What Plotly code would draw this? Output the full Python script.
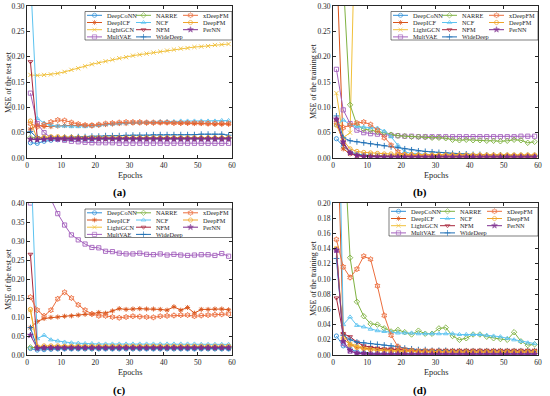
import plotly.graph_objects as go

EPOCHS = [1, 3, 5, 7, 9, 11, 13, 15, 17, 19, 21, 23, 25, 27, 29,
          31, 33, 35, 37, 39, 41, 43, 45, 47, 49, 51, 53, 55, 57, 59]

MODELS = ["DeepCoNN", "DeepICF", "LightGCN", "MultVAE", "NARRE", "NCF",
          "NFM", "WideDeep", "xDeepFM", "DeepFM", "PerNN"]

# (a) test set MSE
TEST_A = {
    "DeepCoNN": [0.030, 0.029, 0.033, 0.035, 0.036, 0.037, 0.037, 0.037, 0.037, 0.037, 0.038, 0.038, 0.038, 0.038, 0.038,
                 0.038, 0.038, 0.038, 0.038, 0.038, 0.038, 0.038, 0.038, 0.038, 0.038, 0.038, 0.038, 0.038, 0.038, 0.038],
    "DeepICF": [0.057, 0.065, 0.062, 0.062, 0.063, 0.064, 0.064, 0.064, 0.064, 0.065, 0.065, 0.066, 0.067, 0.068, 0.068,
                0.069, 0.069, 0.069, 0.069, 0.070, 0.070, 0.070, 0.069, 0.069, 0.068, 0.068, 0.068, 0.067, 0.067, 0.067],
    "LightGCN": [0.164, 0.163, 0.164, 0.165, 0.167, 0.170, 0.174, 0.177, 0.181, 0.185, 0.188, 0.191, 0.194, 0.197, 0.199,
                 0.202, 0.204, 0.206, 0.208, 0.210, 0.212, 0.214, 0.216, 0.217, 0.219, 0.220, 0.221, 0.223, 0.224, 0.225],
    "MultVAE": [0.128, 0.068, 0.050, 0.040, 0.037, 0.035, 0.033, 0.032, 0.031, 0.030, 0.030, 0.030, 0.030, 0.029, 0.029,
                0.029, 0.029, 0.029, 0.029, 0.029, 0.029, 0.029, 0.029, 0.029, 0.029, 0.029, 0.029, 0.029, 0.029, 0.029],
    "NARRE": [0.040, 0.039, 0.039, 0.039, 0.039, 0.039, 0.040, 0.040, 0.039, 0.039, 0.039, 0.039, 0.039, 0.039, 0.039,
              0.039, 0.039, 0.039, 0.039, 0.039, 0.039, 0.039, 0.039, 0.039, 0.039, 0.039, 0.039, 0.039, 0.039, 0.039],
    "NCF": [0.360, 0.078, 0.069, 0.065, 0.063, 0.063, 0.062, 0.062, 0.062, 0.063, 0.064, 0.066, 0.067, 0.068, 0.069,
            0.070, 0.070, 0.071, 0.071, 0.072, 0.072, 0.072, 0.073, 0.073, 0.073, 0.073, 0.073, 0.073, 0.074, 0.074],
    "NFM": [0.190, 0.040, 0.039, 0.038, 0.038, 0.038, 0.038, 0.038, 0.038, 0.038, 0.038, 0.038, 0.038, 0.038, 0.038,
            0.038, 0.038, 0.038, 0.038, 0.038, 0.038, 0.038, 0.038, 0.038, 0.038, 0.038, 0.038, 0.038, 0.038, 0.038],
    "WideDeep": [0.052, 0.040, 0.039, 0.040, 0.040, 0.041, 0.041, 0.042, 0.042, 0.043, 0.043, 0.044, 0.044, 0.044, 0.045,
                 0.045, 0.045, 0.045, 0.046, 0.046, 0.046, 0.046, 0.046, 0.046, 0.046, 0.047, 0.047, 0.047, 0.047, 0.045],
    "xDeepFM": [0.068, 0.062, 0.066, 0.071, 0.075, 0.074, 0.070, 0.067, 0.065, 0.064, 0.066, 0.068, 0.069, 0.070, 0.071,
                0.071, 0.071, 0.070, 0.070, 0.070, 0.070, 0.069, 0.069, 0.069, 0.069, 0.069, 0.068, 0.068, 0.068, 0.068],
    "DeepFM": [0.073, 0.038, 0.041, 0.042, 0.042, 0.041, 0.041, 0.040, 0.040, 0.040, 0.040, 0.040, 0.040, 0.040, 0.040,
               0.040, 0.040, 0.040, 0.040, 0.040, 0.040, 0.040, 0.040, 0.040, 0.040, 0.040, 0.040, 0.040, 0.040, 0.040],
    "PerNN": [0.037, 0.036, 0.037, 0.038, 0.038, 0.038, 0.038, 0.038, 0.038, 0.038, 0.038, 0.038, 0.038, 0.038, 0.038,
              0.038, 0.038, 0.038, 0.038, 0.038, 0.038, 0.038, 0.038, 0.038, 0.038, 0.038, 0.038, 0.038, 0.038, 0.038],
}

# (b) training set MSE
TRAIN_B = {
    "DeepCoNN": [0.038, 0.023, 0.012, 0.008, 0.006, 0.005, 0.005, 0.004, 0.004, 0.004, 0.004, 0.004, 0.003, 0.003, 0.003,
                 0.003, 0.003, 0.003, 0.003, 0.003, 0.003, 0.003, 0.003, 0.003, 0.003, 0.003, 0.003, 0.003, 0.003, 0.003],
    "DeepICF": [0.400, 0.018, 0.008, 0.005, 0.004, 0.004, 0.003, 0.003, 0.003, 0.003, 0.003, 0.003, 0.003, 0.003, 0.003,
                0.003, 0.003, 0.003, 0.003, 0.003, 0.003, 0.003, 0.003, 0.003, 0.003, 0.003, 0.003, 0.003, 0.003, 0.003],
    "LightGCN": [0.128, 0.040, 0.050, 0.620, 0.850, 0.980, 1.050, 1.100, 1.150, 1.180, 1.200, 1.220, 1.240, 1.250, 1.260,
                 1.270, 1.280, 1.290, 1.300, 1.300, 1.310, 1.310, 1.320, 1.320, 1.330, 1.330, 1.330, 1.340, 1.340, 1.340],
    "MultVAE": [0.175, 0.095, 0.068, 0.055, 0.050, 0.048, 0.047, 0.046, 0.045, 0.044, 0.043, 0.043, 0.042, 0.042, 0.042,
                0.042, 0.042, 0.042, 0.042, 0.042, 0.042, 0.042, 0.042, 0.042, 0.042, 0.042, 0.042, 0.043, 0.043, 0.043],
    "NARRE": [0.600, 0.360, 0.105, 0.065, 0.057, 0.055, 0.052, 0.050, 0.046, 0.044, 0.043, 0.042, 0.042, 0.041, 0.040,
              0.040, 0.039, 0.036, 0.035, 0.036, 0.035, 0.035, 0.034, 0.034, 0.033, 0.034, 0.036, 0.035, 0.030, 0.032],
    "NCF": [0.065, 0.075, 0.066, 0.062, 0.061, 0.060, 0.059, 0.053, 0.042, 0.025, 0.012, 0.009, 0.008, 0.007, 0.007,
            0.006, 0.006, 0.006, 0.006, 0.006, 0.006, 0.005, 0.005, 0.005, 0.005, 0.005, 0.005, 0.005, 0.005, 0.005],
    "NFM": [0.075, 0.028, 0.010, 0.005, 0.003, 0.003, 0.002, 0.002, 0.002, 0.002, 0.002, 0.002, 0.002, 0.002, 0.002,
            0.002, 0.002, 0.002, 0.002, 0.002, 0.002, 0.002, 0.002, 0.002, 0.002, 0.002, 0.002, 0.002, 0.002, 0.002],
    "WideDeep": [0.083, 0.040, 0.034, 0.032, 0.030, 0.028, 0.026, 0.024, 0.022, 0.020, 0.018, 0.016, 0.014, 0.013, 0.012,
                 0.011, 0.010, 0.009, 0.008, 0.008, 0.007, 0.007, 0.006, 0.006, 0.006, 0.005, 0.005, 0.005, 0.005, 0.005],
    "xDeepFM": [0.070, 0.060, 0.065, 0.069, 0.071, 0.066, 0.055, 0.040, 0.025, 0.012, 0.006, 0.005, 0.005, 0.004, 0.004,
                0.004, 0.004, 0.004, 0.004, 0.004, 0.004, 0.004, 0.004, 0.004, 0.004, 0.004, 0.004, 0.004, 0.004, 0.004],
    "DeepFM": [0.065, 0.035, 0.018, 0.013, 0.011, 0.010, 0.009, 0.008, 0.008, 0.007, 0.007, 0.007, 0.006, 0.006, 0.006,
               0.006, 0.006, 0.006, 0.006, 0.006, 0.006, 0.006, 0.006, 0.006, 0.006, 0.006, 0.006, 0.006, 0.006, 0.006],
    "PerNN": [0.077, 0.032, 0.010, 0.005, 0.003, 0.002, 0.002, 0.002, 0.002, 0.002, 0.002, 0.002, 0.002, 0.002, 0.002,
              0.002, 0.002, 0.002, 0.002, 0.002, 0.002, 0.002, 0.002, 0.002, 0.002, 0.002, 0.002, 0.002, 0.002, 0.002],
}

# (c) test set MSE
TEST_C = {
    "DeepCoNN": [0.017, 0.013, 0.014, 0.015, 0.016, 0.016, 0.016, 0.016, 0.016, 0.016, 0.016, 0.016, 0.016, 0.016, 0.016,
                 0.016, 0.016, 0.016, 0.016, 0.016, 0.016, 0.016, 0.016, 0.016, 0.016, 0.016, 0.016, 0.016, 0.016, 0.016],
    "DeepICF": [0.072, 0.088, 0.096, 0.099, 0.100, 0.102, 0.103, 0.105, 0.107, 0.108, 0.112, 0.110, 0.116, 0.122, 0.120,
                0.121, 0.122, 0.121, 0.121, 0.120, 0.118, 0.127, 0.118, 0.125, 0.110, 0.120, 0.120, 0.121, 0.121, 0.119],
    "LightGCN": [0.118, 0.021, 0.021, 0.021, 0.021, 0.021, 0.021, 0.021, 0.021, 0.021, 0.021, 0.021, 0.021, 0.021, 0.021,
                 0.021, 0.021, 0.021, 0.021, 0.021, 0.021, 0.021, 0.021, 0.021, 0.021, 0.021, 0.021, 0.021, 0.021, 0.021],
    "MultVAE": [0.400, 0.460, 0.440, 0.410, 0.372, 0.342, 0.316, 0.303, 0.292, 0.283, 0.282, 0.273, 0.272, 0.268, 0.266,
                0.266, 0.268, 0.265, 0.264, 0.266, 0.263, 0.265, 0.263, 0.262, 0.263, 0.264, 0.264, 0.262, 0.267, 0.260],
    "NARRE": [0.020, 0.019, 0.019, 0.019, 0.019, 0.019, 0.019, 0.019, 0.019, 0.019, 0.019, 0.019, 0.019, 0.019, 0.019,
              0.019, 0.019, 0.019, 0.019, 0.019, 0.019, 0.019, 0.019, 0.019, 0.019, 0.019, 0.019, 0.019, 0.019, 0.019],
    "NCF": [0.550, 0.043, 0.052, 0.040, 0.037, 0.034, 0.032, 0.031, 0.030, 0.030, 0.029, 0.029, 0.029, 0.029, 0.029,
            0.029, 0.029, 0.029, 0.029, 0.029, 0.029, 0.029, 0.029, 0.029, 0.029, 0.028, 0.028, 0.028, 0.028, 0.028],
    "NFM": [0.265, 0.020, 0.020, 0.020, 0.020, 0.020, 0.020, 0.020, 0.020, 0.020, 0.020, 0.020, 0.020, 0.020, 0.020,
            0.020, 0.020, 0.020, 0.020, 0.020, 0.020, 0.020, 0.020, 0.020, 0.020, 0.020, 0.020, 0.020, 0.020, 0.020],
    "WideDeep": [0.072, 0.018, 0.018, 0.018, 0.018, 0.018, 0.018, 0.018, 0.018, 0.018, 0.018, 0.018, 0.018, 0.018, 0.018,
                 0.018, 0.018, 0.018, 0.018, 0.018, 0.018, 0.018, 0.018, 0.018, 0.018, 0.018, 0.018, 0.018, 0.018, 0.018],
    "xDeepFM": [0.152, 0.118, 0.103, 0.118, 0.148, 0.165, 0.150, 0.132, 0.118, 0.108, 0.103, 0.103, 0.100, 0.098, 0.100,
                0.102, 0.101, 0.100, 0.099, 0.102, 0.103, 0.104, 0.105, 0.105, 0.102, 0.104, 0.105, 0.106, 0.107, 0.108],
    "DeepFM": [0.120, 0.022, 0.024, 0.024, 0.024, 0.023, 0.023, 0.023, 0.023, 0.023, 0.023, 0.023, 0.023, 0.023, 0.023,
               0.023, 0.023, 0.023, 0.023, 0.023, 0.023, 0.023, 0.023, 0.023, 0.023, 0.023, 0.023, 0.023, 0.023, 0.023],
    "PerNN": [0.052, 0.018, 0.019, 0.019, 0.019, 0.019, 0.019, 0.019, 0.019, 0.019, 0.019, 0.019, 0.019, 0.019, 0.019,
              0.019, 0.019, 0.019, 0.019, 0.019, 0.019, 0.019, 0.019, 0.019, 0.019, 0.019, 0.019, 0.019, 0.019, 0.019],
}

# (d) training set MSE
TRAIN_D = {
    "DeepCoNN": [0.025, 0.012, 0.008, 0.004, 0.003, 0.002, 0.002, 0.002, 0.002, 0.002, 0.002, 0.002, 0.002, 0.002, 0.002,
                 0.002, 0.002, 0.002, 0.002, 0.002, 0.002, 0.002, 0.002, 0.002, 0.002, 0.002, 0.002, 0.002, 0.002, 0.002],
    "DeepICF": [0.350, 0.028, 0.014, 0.010, 0.009, 0.008, 0.008, 0.007, 0.007, 0.007, 0.006, 0.006, 0.006, 0.006, 0.006,
                0.006, 0.006, 0.006, 0.006, 0.006, 0.006, 0.006, 0.006, 0.006, 0.006, 0.006, 0.006, 0.006, 0.006, 0.006],
    "LightGCN": [0.140, 0.020, 0.015, 0.012, 0.010, 0.009, 0.008, 0.007, 0.006, 0.006, 0.005, 0.005, 0.005, 0.005, 0.005,
                 0.005, 0.005, 0.004, 0.004, 0.004, 0.004, 0.004, 0.004, 0.004, 0.004, 0.004, 0.004, 0.004, 0.004, 0.004],
    "MultVAE": [0.138, 0.015, 0.005, 0.002, 0.001, 0.001, 0.001, 0.001, 0.001, 0.001, 0.001, 0.001, 0.001, 0.001, 0.001,
                0.001, 0.001, 0.001, 0.001, 0.001, 0.001, 0.001, 0.001, 0.001, 0.001, 0.001, 0.001, 0.001, 0.001, 0.001],
    "NARRE": [0.500, 0.300, 0.128, 0.070, 0.051, 0.041, 0.040, 0.035, 0.031, 0.033, 0.030, 0.027, 0.032, 0.028, 0.028,
              0.035, 0.036, 0.025, 0.020, 0.022, 0.027, 0.027, 0.024, 0.022, 0.021, 0.020, 0.030, 0.018, 0.013, 0.014],
    "NCF": [0.500, 0.040, 0.050, 0.039, 0.037, 0.034, 0.032, 0.031, 0.030, 0.029, 0.029, 0.029, 0.028, 0.028, 0.028,
            0.028, 0.028, 0.028, 0.027, 0.027, 0.027, 0.027, 0.026, 0.025, 0.024, 0.022, 0.020, 0.018, 0.016, 0.015],
    "NFM": [0.075, 0.028, 0.024, 0.017, 0.012, 0.010, 0.009, 0.008, 0.008, 0.007, 0.007, 0.006, 0.006, 0.006, 0.006,
            0.006, 0.006, 0.006, 0.006, 0.006, 0.006, 0.006, 0.006, 0.006, 0.006, 0.006, 0.006, 0.006, 0.006, 0.006],
    "WideDeep": [0.127, 0.026, 0.020, 0.017, 0.016, 0.015, 0.014, 0.013, 0.012, 0.011, 0.009, 0.008, 0.007, 0.007, 0.006,
                 0.006, 0.006, 0.005, 0.005, 0.005, 0.005, 0.005, 0.005, 0.005, 0.005, 0.005, 0.005, 0.005, 0.005, 0.005],
    "xDeepFM": [0.152, 0.116, 0.102, 0.113, 0.130, 0.126, 0.091, 0.052, 0.026, 0.011, 0.007, 0.006, 0.005, 0.005, 0.005,
                0.004, 0.004, 0.004, 0.004, 0.004, 0.004, 0.004, 0.004, 0.004, 0.004, 0.004, 0.004, 0.004, 0.004, 0.004],
    "DeepFM": [0.140, 0.022, 0.013, 0.010, 0.008, 0.007, 0.006, 0.006, 0.005, 0.005, 0.005, 0.005, 0.004, 0.004, 0.004,
               0.004, 0.004, 0.004, 0.004, 0.004, 0.004, 0.004, 0.004, 0.004, 0.004, 0.004, 0.004, 0.004, 0.004, 0.004],
    "PerNN": [0.138, 0.018, 0.006, 0.002, 0.002, 0.001, 0.001, 0.001, 0.001, 0.001, 0.001, 0.001, 0.001, 0.001, 0.001,
              0.001, 0.001, 0.001, 0.001, 0.001, 0.001, 0.001, 0.001, 0.001, 0.001, 0.001, 0.001, 0.001, 0.001, 0.001],
}

Y_RANGES = [0.30, 0.30, 0.40, 0.20]
Y_DTICKS = [0.05, 0.05, 0.05, 0.02]
X_TITLE = "Epochs"
Y_TITLES = ["MSE of the test set", "MSE of the training set",
            "MSE of the test set", "MSE of the training set"]
PANEL_LABELS = ["(a)", "(b)", "(c)", "(d)"]

STYLE = {
    "DeepCoNN": ("#2F8FD8", "circle-open"),
    "DeepICF": ("#D95319", "asterisk-open"),
    "LightGCN": ("#F0C03A", "x-thin-open"),
    "MultVAE": ("#A461BD", "square-open"),
    "NARRE": ("#7FB241", "diamond-open"),
    "NCF": ("#5CC3F0", "triangle-up-open"),
    "NFM": ("#A8273C", "triangle-down-open"),
    "WideDeep": ("#1F6FB5", "cross-thin-open"),
    "xDeepFM": ("#EC6E3E", "hexagram-open"),
    "DeepFM": ("#EFA52A", "circle-open"),
    "PerNN": ("#7E2F8E", "star"),
}

FONT = "Liberation Serif, Times New Roman, serif"
W, H = 550, 396
# pixel boxes of the four plot areas: (left, top, right, bottom)
BOXES = [(27, 6, 232, 158), (333, 6, 538, 158), (27, 203, 232, 355), (333, 203, 538, 355)]
LEG_BOXES = [(85, 11.5, 232, 40), (391, 11.5, 538, 40), (85, 209, 232, 237.5), (389, 207.5, 538, 236)]
LABEL_POS = [(119, 192), (420, 192), (119, 390), (420, 390)]
YTITLE_X = [8, 313, 8, 313]

fig = go.Figure()
panels = [TEST_A, TRAIN_B, TEST_C, TRAIN_D]
layout = {}
annotations = []
for i, data in enumerate(panels):
    sfx = "" if i == 0 else str(i + 1)
    for name in MODELS:
        col, sym = STYLE[name]
        fig.add_trace(go.Scatter(
            x=EPOCHS, y=data[name], mode="lines+markers", name=name,
            xaxis="x" + sfx, yaxis="y" + sfx, showlegend=False,
            line=dict(color=col, width=1),
            marker=dict(symbol=sym, size=4.2, color=col, line=dict(color=col, width=0.9)),
            cliponaxis=True,
        ))
    l, t, r, b = BOXES[i]
    common = dict(showgrid=False, zeroline=False, showline=True, mirror="ticks",
                  linecolor="#262626", linewidth=0.8, ticks="inside", ticklen=3,
                  tickcolor="#262626", tickwidth=0.8, automargin=False,
                  tickfont=dict(family=FONT, size=7.5, color="#262626"))
    layout["xaxis" + sfx] = dict(common, domain=[l / W, r / W], range=[0, 60], dtick=10,
                                 anchor="y" + sfx)
    layout["yaxis" + sfx] = dict(common, domain=[1 - b / H, 1 - t / H], range=[0, Y_RANGES[i]],
                                 dtick=Y_DTICKS[i], tickformat=".2f", anchor="x" + sfx)
    # axis titles
    annotations.append(dict(x=(l + r) / 2 / W, y=1 - (b + 17) / H, xref="paper", yref="paper",
                            text=X_TITLE, showarrow=False, xanchor="center", yanchor="middle",
                            font=dict(family=FONT, size=8.3, color="#262626")))
    annotations.append(dict(x=YTITLE_X[i] / W, y=1 - (t + b) / 2 / H, xref="paper", yref="paper",
                            text=Y_TITLES[i], showarrow=False, textangle=-90,
                            xanchor="center", yanchor="middle",
                            font=dict(family=FONT, size=8, color="#262626")))

# overlay pixel-space axes for the compact three-column legends
layout["xaxis5"] = dict(domain=[0, 1], range=[0, W], visible=False, anchor="y5", fixedrange=True)
layout["yaxis5"] = dict(domain=[0, 1], range=[H, 0], visible=False, anchor="x5", fixedrange=True)

for i in range(4):
    L, T, R, B = LEG_BOXES[i]
    fig.add_trace(go.Scatter(
        x=[L, R, R, L, L], y=[T, T, B, B, T], mode="lines", fill="toself",
        fillcolor="white", line=dict(color="#262626", width=0.6),
        xaxis="x5", yaxis="y5", showlegend=False, hoverinfo="skip"))
    for k, name in enumerate(MODELS):
        c, r = divmod(k, 4)
        gx0 = L + [2, 51, 98][c]
        tx = L + [20, 69, 116][c]
        yy = T + 3.8 + r * 7.2
        col, sym = STYLE[name]
        fig.add_trace(go.Scatter(
            x=[gx0, gx0 + 7.5, gx0 + 15], y=[yy, yy, yy], mode="lines+markers",
            xaxis="x5", yaxis="y5", showlegend=False, hoverinfo="skip",
            line=dict(color=col, width=1),
            marker=dict(symbol=sym, size=[0, 4.2, 0], color=col, line=dict(color=col, width=0.9))))
        annotations.append(dict(x=tx, y=yy, xref="x5", yref="y5", text=name, showarrow=False,
                                xanchor="left", yanchor="middle",
                                font=dict(family=FONT, size=6.3, color="#262626")))
    lx, ly = LABEL_POS[i]
    annotations.append(dict(x=lx / W, y=1 - ly / H, xref="paper", yref="paper",
                            text="<b>" + PANEL_LABELS[i] + "</b>", showarrow=False,
                            xanchor="center", yanchor="middle",
                            font=dict(family=FONT, size=11, color="black")))

fig.update_layout(**layout)
fig.update_layout(width=W, height=H, margin=dict(l=0, r=0, t=0, b=0),
                  paper_bgcolor="white", plot_bgcolor="rgba(0,0,0,0)",
                  annotations=annotations, showlegend=False)
fig.write_html("out.html", config={"displayModeBar": False},
               post_script="document.body.style.margin='0';")
